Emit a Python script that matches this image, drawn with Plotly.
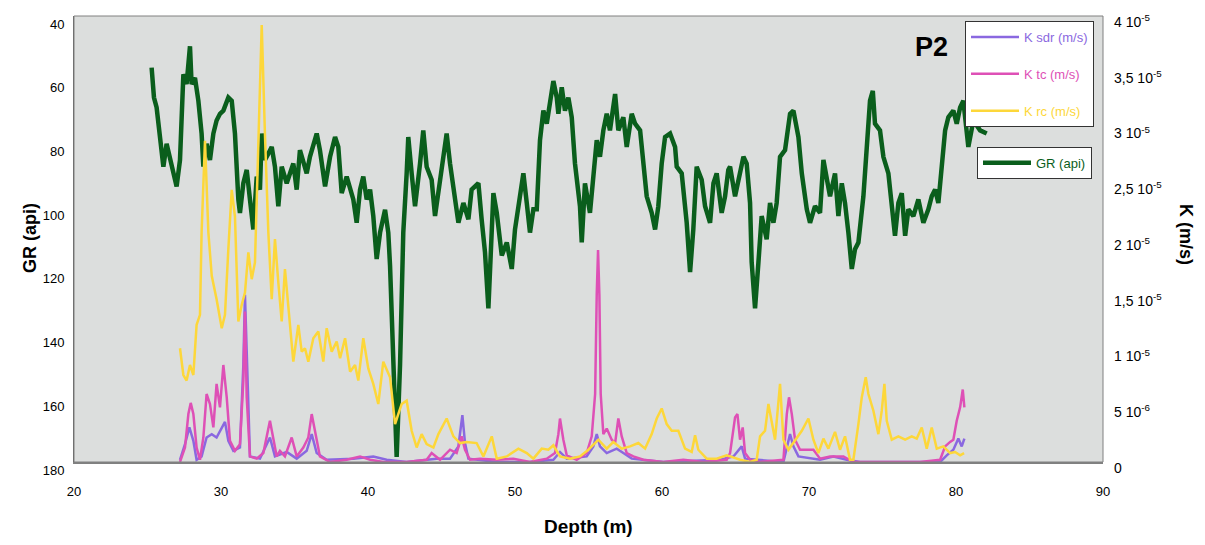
import numpy as np
import plotly.graph_objects as go

# ---------------- data ----------------
# Gamma ray log (api) versus depth (m)
gr_depth = [25.28, 25.44, 25.62, 25.85, 26.08, 26.30, 26.53, 26.76, 26.98, 27.21, 27.32, 27.44, 27.66, 27.89,
            28.00, 28.23, 28.46, 28.68, 28.80, 29.02, 29.25, 29.48, 29.70, 29.93, 30.16, 30.50, 30.73, 30.95,
            31.18, 31.29, 31.52, 31.75, 31.97, 32.20, 32.43, 32.65, 32.77, 32.99, 33.22, 33.45, 33.67, 33.90,
            34.13, 34.47, 34.92, 35.15, 35.37, 35.83, 36.05, 36.51, 36.73, 37.08, 37.42, 37.76, 37.98, 38.21,
            38.55, 39.00, 39.23, 39.46, 39.68, 39.91, 40.14, 40.36, 40.59, 40.82, 41.16, 41.38, 41.50, 41.72,
            41.95, 42.18, 42.40, 42.63, 42.74, 42.97, 43.20, 43.54, 43.76, 43.99, 44.33, 44.56, 44.90, 45.13,
            45.35, 45.58, 45.92, 46.15, 46.49, 46.83, 47.05, 47.51, 47.73, 47.96, 48.19, 48.30, 48.53, 48.76,
            49.10, 49.44, 49.78, 50.00, 50.34, 50.57, 50.80, 51.02, 51.25, 51.48, 51.70, 51.93, 52.16, 52.38,
            52.61, 52.84, 52.95, 53.18, 53.40, 53.63, 53.86, 54.08, 54.42, 54.54, 54.76, 55.10, 55.33, 55.56,
            55.78, 56.01, 56.24, 56.46, 56.81, 57.03, 57.37, 57.60, 57.94, 58.17, 58.51, 58.73, 58.96, 59.30,
            59.53, 59.75, 59.98, 60.21, 60.55, 60.89, 61.00, 61.34, 61.68, 61.91, 62.13, 62.36, 62.70, 62.93,
            63.27, 63.50, 63.72, 64.06, 64.29, 64.51, 64.63, 64.97, 65.31, 65.54, 65.76, 65.99, 66.10, 66.33,
            66.56, 66.78, 67.12, 67.35, 67.58, 67.80, 68.03, 68.37, 68.71, 68.94, 69.28, 69.51, 69.85, 70.07,
            70.41, 70.75, 70.98, 71.21, 71.43, 71.77, 72.00, 72.23, 72.45, 72.68, 72.91, 73.13, 73.36, 73.70,
            73.93, 74.15, 74.34, 74.49, 74.83, 75.06, 75.40, 75.63, 75.85, 76.08, 76.31, 76.54, 76.76, 77.10,
            77.44, 77.78, 78.12, 78.35, 78.58, 78.80, 79.03, 79.26, 79.48, 79.82, 80.05, 80.28, 80.50, 80.73,
            80.84, 81.18, 81.64, 82.09]
gr_api = [56.2, 65.6, 68.7, 79.0, 87.3, 80.1, 85.2, 89.4, 93.5, 85.2, 66.6, 58.3, 61.4, 49.5,
          61.4, 59.4, 66.6, 76.9, 87.3, 80.1, 85.2, 76.9, 72.8, 70.7, 69.7, 65.6, 66.6, 76.9,
          97.6, 101.8, 92.5, 88.3, 97.6, 107.0, 90.4, 94.5, 76.9, 85.2, 83.2, 81.1, 87.3, 99.7,
          87.3, 92.5, 86.3, 94.5, 82.1, 89.4, 84.2, 76.9, 82.1, 93.5, 84.2, 78.0, 81.1, 95.6,
          90.4, 97.6, 104.9, 94.5, 90.4, 97.6, 94.5, 102.8, 116.3, 108.0, 100.8, 108.0, 118.4, 144.2,
          178.4, 149.4, 108.0, 89.4, 78.0, 89.4, 99.7, 86.3, 75.9, 87.3, 91.4, 102.8, 91.4, 84.2,
          76.9, 86.3, 96.6, 104.9, 98.7, 103.8, 94.5, 92.5, 103.8, 114.2, 131.8, 119.4, 95.6, 101.8,
          115.2, 111.1, 119.4, 107.0, 96.6, 89.4, 98.7, 108.0, 100.7, 100.7, 79.0, 69.7, 73.8, 66.6,
          60.4, 65.6, 70.7, 62.4, 69.7, 65.6, 71.8, 86.3, 99.7, 111.1, 92.5, 101.8, 91.4, 79.0,
          84.2, 75.9, 70.7, 75.9, 64.5, 75.9, 71.8, 81.1, 70.7, 73.8, 75.9, 86.3, 96.6, 101.8,
          107.0, 99.7, 86.3, 78.0, 76.9, 81.1, 87.3, 89.4, 104.9, 120.4, 107.0, 87.3, 91.4, 99.7,
          104.9, 92.5, 89.4, 101.8, 96.6, 88.3, 87.3, 96.6, 89.4, 84.2, 86.3, 98.7, 117.3, 131.8,
          117.3, 102.8, 110.1, 98.7, 104.9, 98.7, 84.2, 82.1, 70.7, 69.7, 78.0, 89.4, 100.7, 104.9,
          99.7, 101.8, 85.2, 91.4, 96.6, 89.4, 102.8, 92.5, 98.7, 108.0, 119.4, 113.2, 111.1, 96.6,
          81.1, 66.6, 63.5, 73.8, 75.9, 84.2, 89.4, 98.7, 109.0, 98.7, 95.6, 109.0, 100.7, 102.8,
          97.6, 104.9, 100.7, 96.6, 94.5, 98.7, 85.2, 75.9, 71.8, 69.7, 73.8, 68.7, 66.6, 75.9,
          81.1, 72.8, 75.9, 76.9]

# Permeability K from the rc model (1e-6 m/s)
krc_depth = [27.21, 27.44, 27.66, 27.89, 28.12, 28.34, 28.57, 28.68, 28.91, 29.14, 29.37, 29.70, 30.05, 30.27,
             30.50, 30.73, 30.95, 31.18, 31.41, 31.63, 31.86, 32.09, 32.31, 32.54, 32.77, 32.99, 33.22, 33.45,
             33.67, 33.90, 34.13, 34.35, 34.58, 34.92, 35.26, 35.49, 35.71, 35.94, 36.28, 36.62, 36.96, 37.19,
             37.53, 37.87, 38.10, 38.44, 38.78, 39.12, 39.34, 39.68, 40.02, 40.36, 40.70, 41.04, 41.50, 41.84,
             42.06, 42.29, 42.63, 42.97, 43.31, 43.65, 43.99, 44.45, 44.79, 45.35, 45.81, 46.26, 46.71, 47.39,
             47.85, 48.42, 48.76, 49.44, 50.23, 50.80, 51.25, 51.82, 52.27, 52.61, 53.06, 53.74, 54.42, 54.99,
             55.67, 56.24, 56.69, 57.26, 57.83, 58.39, 58.85, 59.30, 59.64, 59.98, 60.32, 60.66, 61.11, 61.57,
             62.02, 62.25, 62.47, 63.04, 63.72, 64.40, 64.63, 65.31, 65.99, 66.44, 66.67, 67.01, 67.24, 67.46,
             67.69, 68.03, 68.26, 68.60, 69.05, 69.51, 69.96, 70.30, 70.64, 70.98, 71.32, 71.77, 72.11, 72.45,
             72.79, 73.02, 73.36, 73.59, 73.86, 74.04, 74.38, 74.72, 74.95, 75.13, 75.29, 75.63, 76.08, 76.54,
             76.99, 77.33, 77.67, 78.01, 78.35, 78.69, 79.14, 79.60, 79.94, 80.28, 80.55]
krc_e6 = [10.2, 7.8, 7.3, 8.7, 7.8, 12.3, 13.2, 20.6, 28.8, 20.6, 16.7, 14.6, 12.0, 13.2,
          19.1, 24.4, 22.0, 12.6, 14.1, 15.2, 18.8, 16.4, 17.9, 29.4, 39.2, 29.4, 20.6, 14.6,
          20.0, 16.1, 12.6, 17.3, 13.8, 9.0, 12.3, 9.9, 10.2, 9.0, 11.1, 11.7, 9.0, 12.0,
          9.9, 10.8, 9.3, 11.1, 8.1, 8.7, 7.3, 11.1, 8.4, 7.0, 5.2, 9.0, 7.6, 3.4,
          4.3, 5.2, 5.5, 2.8, 1.3, 2.5, 1.6, 1.3, 2.5, 3.9, 2.3, 1.7, 1.8, 1.7,
          0.5, 2.3, 0.3, 0.5, 1.2, 0.8, 0.3, 1.2, 1.1, 1.5, 0.5, 0.3, 0.5, 1.1,
          2.0, 1.2, 1.8, 1.2, 1.4, 1.7, 1.2, 2.5, 3.9, 4.8, 3.4, 2.8, 2.8, 1.2,
          0.9, 2.4, 1.1, 0.3, 0.3, 0.6, 0.5, 0.2, 0.0, 0.2, 2.3, 2.8, 5.2, 3.7,
          2.0, 7.0, 2.0, 1.1, 2.0, 2.8, 3.9, 2.0, 0.8, 2.1, 1.2, 2.7, 1.1, 2.3,
          0.2, 0.2, 3.4, 5.8, 7.6, 6.1, 4.6, 2.5, 4.6, 7.0, 3.7, 2.0, 2.3, 2.0,
          2.3, 2.1, 3.1, 1.2, 3.1, 1.2, 1.4, 0.8, 0.9, 0.6, 0.8]

# Permeability K from the tc model (1e-6 m/s)
ktc_depth = [27.21, 27.55, 27.78, 27.94, 28.12, 28.34, 28.57, 28.80, 29.02, 29.25, 29.48, 29.70, 29.93, 30.16,
             30.39, 30.61, 30.95, 31.29, 31.52, 31.63, 31.75, 31.97, 32.43, 32.88, 33.33, 33.56, 33.79, 34.01,
             34.35, 34.81, 35.15, 35.60, 35.94, 36.17, 36.39, 36.73, 37.42, 38.55, 39.46, 40.14, 41.04, 42.63,
             43.99, 44.33, 44.90, 45.58, 46.03, 46.37, 46.60, 46.94, 47.62, 48.76, 49.89, 51.02, 52.16, 52.72,
             52.95, 53.06, 53.29, 53.52, 54.20, 54.88, 55.22, 55.45, 55.56, 55.65, 55.74, 55.83, 56.01, 56.24,
             56.58, 56.81, 57.03, 57.26, 57.60, 58.05, 58.73, 60.09, 61.45, 62.81, 64.40, 64.63, 64.97, 65.13,
             65.31, 65.49, 65.65, 65.99, 66.67, 68.26, 68.49, 68.64, 68.83, 69.05, 69.39, 70.30, 70.75, 71.43,
             72.34, 73.02, 75.29, 77.56, 78.92, 79.26, 79.60, 79.82, 80.05, 80.28, 80.46, 80.57]
ktc_e6 = [0.0, 1.3, 4.3, 5.3, 4.3, 1.3, 0.2, 2.2, 6.1, 5.2, 3.1, 7.0, 4.9, 8.7,
          5.8, 1.9, 1.0, 1.6, 7.3, 13.5, 5.8, 0.5, 0.3, 0.8, 3.7, 1.9, 0.5, 1.0,
          0.5, 2.2, 0.5, 1.3, 2.2, 4.3, 2.8, 0.5, 0.0, 0.2, 0.5, 0.2, 0.0, 0.0,
          0.2, 0.8, 0.2, 1.1, 0.8, 2.3, 1.1, 0.2, 0.3, 0.2, 0.3, 0.0, 0.3, 0.8,
          2.5, 3.9, 2.0, 0.6, 0.2, 0.8, 2.3, 6.1, 15.0, 19.0, 15.0, 6.1, 2.5, 3.0,
          2.0, 1.7, 3.9, 2.3, 0.8, 0.5, 0.2, 0.0, 0.2, 0.0, 0.2, 0.8, 4.0, 4.3,
          2.0, 3.1, 0.8, 0.2, 0.0, 0.2, 4.3, 5.8, 4.3, 2.0, 1.1, 1.1, 0.3, 0.5,
          0.5, 0.0, 0.0, 0.0, 0.2, 1.4, 1.8, 2.0, 3.7, 4.9, 6.5, 4.9]

# Permeability K from the sdr model (1e-6 m/s)
ksdr_depth = [27.21, 27.55, 27.85, 28.12, 28.34, 28.68, 29.02, 29.37, 29.70, 30.05, 30.27, 30.50, 30.84, 31.29,
              31.52, 31.63, 31.79, 31.97, 32.65, 33.33, 33.67, 34.47, 35.15, 35.83, 36.17, 36.51, 37.19, 39.00,
              40.36, 41.27, 42.63, 43.99, 44.67, 45.58, 46.15, 46.42, 46.60, 46.83, 48.76, 51.02, 52.61, 53.06,
              53.52, 54.88, 55.33, 55.56, 55.78, 56.24, 56.92, 57.37, 57.94, 60.09, 63.95, 64.86, 65.20, 65.42,
              65.65, 68.26, 68.71, 68.94, 69.28, 70.75, 71.66, 72.57, 73.47, 78.92, 79.37, 79.82, 80.16, 80.39,
              80.57]
ksdr_e6 = [0.2, 1.6, 3.1, 1.9, 0.2, 0.5, 2.2, 2.5, 2.2, 3.1, 3.6, 1.9, 1.0, 1.3,
           8.7, 15.0, 7.3, 0.5, 0.3, 2.2, 0.5, 0.9, 0.3, 1.0, 2.5, 0.8, 0.2, 0.3,
           0.5, 0.2, 0.0, 0.2, 0.3, 0.3, 1.4, 4.2, 1.7, 0.3, 0.0, 0.0, 0.2, 0.9,
           0.3, 0.5, 1.4, 2.5, 1.4, 0.8, 1.2, 0.8, 0.3, 0.0, 0.2, 0.5, 1.1, 1.4,
           0.3, 0.0, 2.5, 1.4, 0.5, 0.2, 0.5, 0.2, 0.0, 0.0, 0.6, 1.1, 2.1, 1.4,
           2.1]

gr_ticks = [40, 60, 80, 100, 120, 140, 160, 180]
k_ticks = [0, 5e-6, 1e-5, 1.5e-5, 2e-5, 2.5e-5, 3e-5, 3.5e-5, 4e-5]
k_ticktext = ["0", "5 10<sup>-6</sup>", "1 10<sup>-5</sup>", "1,5 10<sup>-5</sup>", "2 10<sup>-5</sup>",
              "2,5 10<sup>-5</sup>", "3 10<sup>-5</sup>", "3,5 10<sup>-5</sup>", "4 10<sup>-5</sup>"]
depth_ticks = [20, 30, 40, 50, 60, 70, 80, 90]

# ---------------- styling ----------------
FONT = "Liberation Sans, Arial, sans-serif"
C_GR = "#0A5E1C"
C_SDR = "#8A68E0"
C_TC = "#DE50B6"
C_RC = "#FDD73A"

W, H = 1205, 545
ML, MR, MT, MB = 74, 102, 12, 83
PW, PH = W - ML - MR, H - MT - MB


def px(x):
    """pixel column -> paper x"""
    return (x - ML) / PW


def py(y):
    """pixel row -> paper y"""
    return (H - MB - y) / PH


fig = go.Figure()

fig.add_trace(go.Scatter(
    x=gr_depth, y=gr_api, mode="lines", yaxis="y",
    line=dict(color=C_GR, width=4.5),
    name=f"<span style='color:{C_GR}'>GR (api)</span>", legend="legend2"))

for depth, vals, col, label in [
    (ksdr_depth, ksdr_e6, C_SDR, "K sdr (m/s)"),
    (ktc_depth, ktc_e6, C_TC, "K tc (m/s)"),
    (krc_depth, krc_e6, C_RC, "K rc (m/s)"),
]:
    fig.add_trace(go.Scatter(
        x=depth, y=np.array(vals) * 1e-6, mode="lines", yaxis="y2",
        line=dict(color=col, width=2.5),
        name=f"<span style='color:{col}'>{label}</span>",
        legend="legend", legendgroup=label))

fig.update_layout(
    width=W, height=H,
    margin=dict(l=ML, r=MR, t=MT, b=MB),
    paper_bgcolor="white",
    plot_bgcolor="#DCDEDD",
    font=dict(family=FONT, size=13, color="black"),
    showlegend=True,
    xaxis=dict(
        range=[20, 90], tickvals=depth_ticks, ticks="", showgrid=False, zeroline=False,
        showline=True, linecolor="#808080", linewidth=2,
        ticklabelstandoff=16, tickfont=dict(size=13)),
    yaxis=dict(
        range=[180, 40], tickvals=gr_ticks, ticks="", showgrid=False, zeroline=False,
        showline=True, linecolor="#606060", linewidth=1,
        ticklabelstandoff=6, ticklabelshift=-8, tickfont=dict(size=13)),
    yaxis2=dict(
        range=[0, 4.00001e-5], overlaying="y", side="right", tickvals=k_ticks, ticktext=k_ticktext,
        ticks="", showgrid=False, zeroline=False, showline=False,
        ticklabelstandoff=10, ticklabelshift=6, tickfont=dict(size=14)),
    legend=dict(
        x=px(965), y=py(17), xanchor="left", yanchor="top",
        bgcolor="white", bordercolor="#333333", borderwidth=1, itemwidth=48,
        font=dict(size=13), tracegroupgap=17, traceorder="grouped"),
    legend2=dict(
        x=px(977), y=py(144), xanchor="left", yanchor="top",
        bgcolor="white", bordercolor="#333333", borderwidth=1, itemwidth=48,
        font=dict(size=13)),
)

# grey frame around the plotting area
fig.add_shape(type="rect", xref="paper", yref="paper", x0=0, y0=0, x1=1, y1=1,
              line=dict(color="#808080", width=1), layer="above")

fig.add_annotation(text="<b>P2</b>", xref="paper", yref="paper", x=px(931), y=py(43),
                   xanchor="center", yanchor="middle", showarrow=False, font=dict(size=27, color="black"))
fig.add_annotation(text="<b>GR (api)</b>", xref="paper", yref="paper", x=px(30), y=py(236),
                   xanchor="center", yanchor="middle", textangle=-90, showarrow=False, font=dict(size=18))
fig.add_annotation(text="<b>K (m/s)</b>", xref="paper", yref="paper", x=px(1186), y=py(232),
                   xanchor="center", yanchor="middle", textangle=90, showarrow=False, font=dict(size=18))
fig.add_annotation(text="<b>Depth (m)</b>", xref="paper", yref="paper", x=px(588), y=py(527),
                   xanchor="center", yanchor="middle", showarrow=False, font=dict(size=19))

fig.write_html("out.html")
